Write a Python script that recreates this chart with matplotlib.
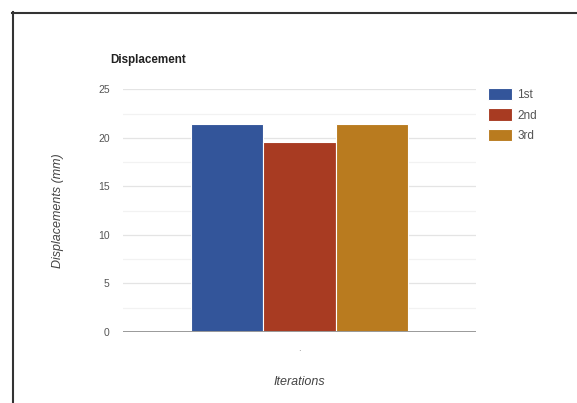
import numpy as np
import matplotlib.pyplot as plt
from matplotlib.lines import Line2D

plt.rcParams["font.family"] = ["Liberation Sans", "DejaVu Sans"]

# ── Data ──────────────────────────────────────────────────────────────────────
categories = ["."]
series_names = ["1st", "2nd", "3rd"]
displacements = [21.4, 19.6, 21.4]
colors = ["#33559a", "#a83b22", "#b97b1f"]

y_ticks = [0, 5, 10, 15, 20, 25]
y_minor = [2.5, 7.5, 12.5, 17.5, 22.5]

# ── Figure ────────────────────────────────────────────────────────────────────
fig = plt.figure(figsize=(5.77, 4.03), dpi=100)
ax = fig.add_axes([0.2132, 0.1762, 0.6118, 0.6022])

width = 1.0
offsets = np.arange(len(series_names)) - (len(series_names) - 1) / 2
x = np.arange(len(categories))
for off, name, val, col in zip(offsets, series_names, displacements, colors):
    ax.bar(x + off * width, [val], width=width, color=col, label=name,
           edgecolor="white", linewidth=0.8, zorder=3)

ax.set_xlim(-2.44, 2.44)
ax.set_ylim(0, 25)
ax.set_yticks(y_ticks)
ax.set_yticks(y_minor, minor=True)
ax.set_xticks(x)
ax.set_xticklabels(categories, color="#888888", fontsize=7)

ax.grid(axis="y", which="major", color="#e4e4e4", linewidth=0.9, zorder=0)
ax.grid(axis="y", which="minor", color="#f2f2f2", linewidth=0.9, zorder=0)
ax.axhline(0, color="#9a9a9a", linewidth=1.4, zorder=4)

for s in ax.spines.values():
    s.set_visible(False)
ax.tick_params(axis="both", which="both", length=0)
ax.tick_params(axis="y", labelsize=7.5, labelcolor="#555555", pad=9.5)
ax.tick_params(axis="x", pad=8)

ax.set_xlabel("Iterations", fontsize=9, style="italic", color="#444444")
ax.xaxis.set_label_coords(0.5, -0.18)
ax.set_ylabel("Displacements (mm)", fontsize=9, style="italic",
              color="#444444")
ax.yaxis.set_label_coords(-0.167, 0.5)
fig.text(110 / 577, 1 - 60 / 403, "Displacement", fontsize=8.4,
         fontweight="bold", color="#222222", va="center", ha="left")

ax.legend(loc="upper left", bbox_to_anchor=(488 / 577, 1 - 88 / 403),
          bbox_transform=fig.transFigure, frameon=False, fontsize=8.5,
          handlelength=2.0, handleheight=1.25, labelspacing=0.6,
          handletextpad=0.5, borderaxespad=0, borderpad=0,
          labelcolor="#555555")

# frame edges along top and left
fig.add_artist(Line2D([12 / 577, 1], [1 - 12.5 / 403] * 2,
                      transform=fig.transFigure, color="#333333", linewidth=1.5))
fig.add_artist(Line2D([12.5 / 577] * 2, [0, 1 - 12 / 403],
                      transform=fig.transFigure, color="#333333", linewidth=1.5))

fig.savefig("out.png", dpi=100)
